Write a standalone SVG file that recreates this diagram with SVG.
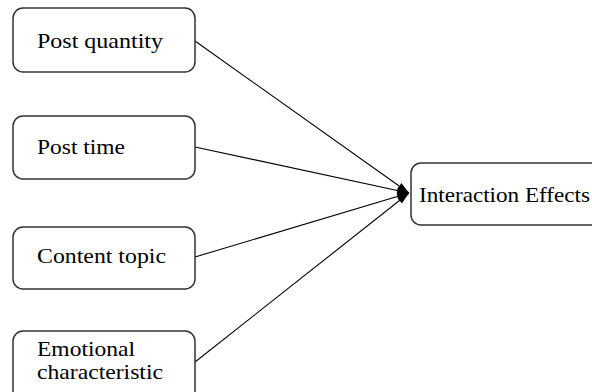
<svg xmlns="http://www.w3.org/2000/svg" width="592" height="392" viewBox="0 0 592 392">
<style>
.box{fill:#fff;stroke:#333;stroke-width:1.5}
.lbl{font-family:"Liberation Serif","Times New Roman",serif;font-size:21.5px;fill:#000}
.edge{stroke:#000;stroke-width:1.1;fill:none}
</style>
<defs>
<marker id="arr" viewBox="0 0 12 10" refX="12" refY="5" markerWidth="12" markerHeight="10" markerUnits="userSpaceOnUse" orient="auto">
<path d="M0,1.2 L12,5 L0,8.8 Z" fill="#000"/>
</marker>
</defs>
<rect width="592" height="392" fill="#fff"/>
<g id="connectors">
<line class="edge" x1="195" y1="41" x2="409" y2="193" marker-end="url(#arr)"/>
<line class="edge" x1="195" y1="147" x2="409" y2="193" marker-end="url(#arr)"/>
<line class="edge" x1="195" y1="257" x2="409" y2="193" marker-end="url(#arr)"/>
<line class="edge" x1="195" y1="362" x2="409" y2="193" marker-end="url(#arr)"/>
</g>
<g id="post-quantity">
<rect class="box" x="13" y="8" width="182" height="64" rx="10"/>
<text class="lbl" x="37" y="48" textLength="126" lengthAdjust="spacingAndGlyphs">Post quantity</text>
</g>
<g id="post-time">
<rect class="box" x="13" y="116" width="182" height="63" rx="10"/>
<text class="lbl" x="37" y="154" textLength="88" lengthAdjust="spacingAndGlyphs">Post time</text>
</g>
<g id="content-topic">
<rect class="box" x="13" y="227" width="182" height="62" rx="10"/>
<text class="lbl" x="37" y="263" textLength="129" lengthAdjust="spacingAndGlyphs">Content topic</text>
</g>
<g id="emotional-characteristic">
<rect class="box" x="13" y="331" width="182" height="70" rx="10"/>
<text class="lbl" x="37" y="356" textLength="98" lengthAdjust="spacingAndGlyphs">Emotional</text>
<text class="lbl" x="37" y="379" textLength="126" lengthAdjust="spacingAndGlyphs">characteristic</text>
</g>
<g id="interaction-effects">
<rect class="box" x="411" y="163" width="200" height="62" rx="10"/>
<text class="lbl" x="419" y="202" textLength="171" lengthAdjust="spacingAndGlyphs">Interaction Effects</text>
</g>
</svg>
